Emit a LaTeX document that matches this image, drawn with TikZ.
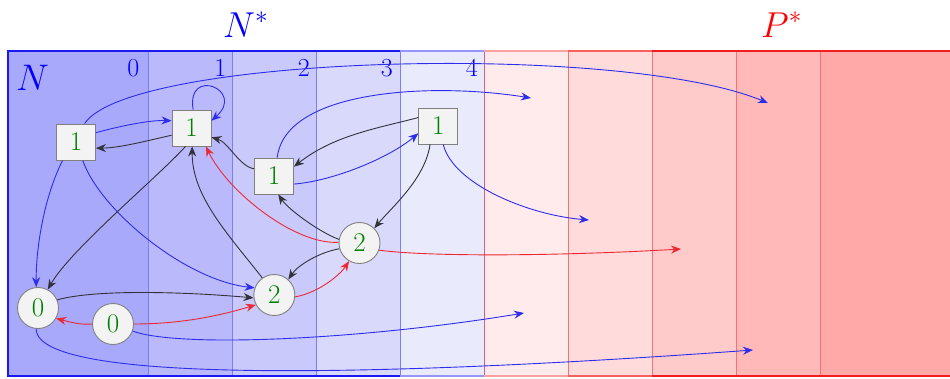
\RequirePackage{fix-cm}
\documentclass[tikz,border=0pt]{standalone}
\usetikzlibrary{arrows.meta}
\definecolor{bA}{RGB}{169,169,252}
\definecolor{bB}{RGB}{185,185,252}
\definecolor{bC}{RGB}{201,201,252}
\definecolor{bD}{RGB}{217,217,252}
\definecolor{bE}{RGB}{234,234,253}
\definecolor{rA}{RGB}{255,235,235}
\definecolor{rB}{RGB}{255,219,219}
\definecolor{rC}{RGB}{255,202,202}
\definecolor{rD}{RGB}{255,185,185}
\definecolor{rE}{RGB}{255,169,169}
\definecolor{eblue}{RGB}{45,45,235}
\definecolor{eblack}{RGB}{50,50,58}
\definecolor{ered}{RGB}{238,40,50}
\definecolor{ngreen}{RGB}{0,128,0}
\definecolor{nfill}{RGB}{243,243,243}
\definecolor{nborder}{RGB}{128,128,128}
\definecolor{bline}{RGB}{125,125,245}
\definecolor{rline}{RGB}{245,115,115}
\definecolor{mline}{RGB}{215,95,140}
\definecolor{bord}{RGB}{25,25,240}
\definecolor{bordl}{RGB}{150,150,250}
\definecolor{rord}{RGB}{240,30,30}
\definecolor{rordl}{RGB}{250,160,160}
\definecolor{rordm}{RGB}{248,95,95}
\begin{document}
\begin{tikzpicture}[x=1pt,y=-1pt,
  sq/.style={draw=nborder,fill=nfill,line width=0.9pt,minimum width=39pt,minimum height=36pt,inner sep=0pt,text=ngreen,font=\fontsize{27}{28}\selectfont},
  cir/.style={circle,draw=nborder,fill=nfill,line width=0.9pt,minimum size=41pt,inner sep=0pt,text=ngreen,font=\fontsize{27}{28}\selectfont},
  arr/.style={line width=0.9pt,-{Stealth[length=10pt,width=8pt]}},
  eb/.style={arr,draw=eblue}, ek/.style={arr,draw=eblack}, er/.style={arr,draw=ered},
  lab/.style={anchor=east,text=blue,inner sep=0pt,font=\fontsize{26}{27}\selectfont},
  big/.style={inner sep=0pt,anchor=base west,font=\fontsize{36}{38}\selectfont}]
\useasboundingbox (0,0) rectangle (950,378);
% strips
\fill[bA] (8,51) rectangle (148,376);
\fill[bB] (148,51) rectangle (232,376);
\fill[bC] (232,51) rectangle (316,376);
\fill[bD] (316,51) rectangle (400,376);
\fill[bE] (400,51) rectangle (484,376);
\fill[rA] (484,51) rectangle (568,376);
\fill[rB] (568,51) rectangle (652,376);
\fill[rC] (652,51) rectangle (736,376);
\fill[rD] (736,51) rectangle (820,376);
\fill[rE] (820,51) rectangle (950,376);
\foreach \x in {148,232,316,400} \draw[bline,line width=0.8pt] (\x,51) -- (\x,376);
\draw[mline,line width=0.9pt] (484,51) -- (484,376);
\foreach \x in {568,652,736,820} \draw[rline,line width=1pt] (\x,51) -- (\x,376);
% borders
\draw[bord,line width=1.8pt] (400,51) -- (8,51) -- (8,376) -- (400,376);
\draw[bordl,line width=1.8pt] (400,51) -- (484,51) (400,376) -- (484,376);
\draw[rordl,line width=1.8pt] (484,51) -- (568,51) (484,376) -- (568,376);
\draw[rordm,line width=1.8pt] (568,51) -- (652,51) (568,376) -- (652,376);
\draw[rord,line width=1.8pt] (652,51) -- (950,51) (652,376) -- (950,376);
% labels
\node[big,text=blue] (Nstar) at (223,37) {$N^*$};
\node[big,text=red] (Pstar) at (761,37) {$P^*$};
\node[big,text=blue,font=\fontsize{37}{39}\selectfont] (Nlab) at (16,90) {$N$};
\node[lab] (l0) at (139.5,68) {0};
\node[lab] (l1) at (226.5,68) {1};
\node[lab] (l2) at (310,68) {2};
\node[lab] (l3) at (393,68) {3};
\node[lab] (l4) at (478,68) {4};
% nodes
\node[sq] (A) at (76,142) {1};
\node[sq] (B) at (191.5,128) {1};
\node[sq] (C) at (274,176) {1};
\node[sq] (D) at (438.3,126) {1};
\node[cir] (E) at (359.5,243) {2};
\node[cir] (F) at (274.3,295) {2};
\node[cir] (G) at (38,308) {0};
\node[cir] (H) at (113,324) {0};
% free ends
\coordinate (pA) at (768,103);
\coordinate (pC) at (531,98);
\coordinate (pD) at (589,220);
\coordinate (pH) at (524,313);
\coordinate (pG) at (753,350);
\coordinate (pE) at (681,249);
% blue edges
\draw[eb] (A.25) .. controls (120,126) and (150,120) .. (B.160);
\draw[eb] (B.85) .. controls (186,66) and (246,90) .. (B.20);
\draw[eb] (A.-126) .. controls (45,195) and (36,245) .. (G.95);
\draw[eb] (A.-70) .. controls (100,210) and (185,280) .. (F.160);
\draw[eb] (A.65) .. controls (130,55) and (620,42) .. (pA);
\draw[eb] (C.-22) .. controls (333,181) and (389,158) .. (D.200);
\draw[eb] (C.80) .. controls (285,90) and (430,82) .. (pC);
\draw[eb] (D.-75) .. controls (453,184) and (528,215) .. (pD);
\draw[eb] (H.-20) .. controls (180,348) and (360,340) .. (pH);
\draw[eb] (G.-95) .. controls (36,390) and (450,372) .. (pG);
% black edges
\draw[ek] (B.200) .. controls (150,140) and (120,148) .. (A.-17);
\draw[ek] (B.-108) .. controls (160,175) and (70,250) .. (G.62);
\draw[ek] (F.125) .. controls (227,233) and (192,196) .. (B.-88);
\draw[ek] (C.160) .. controls (240,167) and (228,142) .. (B.-25);
\draw[ek] (D.157) .. controls (379,128) and (334,135) .. (C.25);
\draw[ek] (D.-114) .. controls (425,179) and (392,207) .. (E.45);
\draw[ek] (E.170) .. controls (319,232) and (288,209) .. (C.-77);
\draw[ek] (E.196) .. controls (320,252) and (298,265) .. (F.48);
\draw[ek] (G.23) .. controls (100,288) and (200,293) .. (F.188);
% red edges
\draw[er] (E.178) .. controls (295,245) and (228,192) .. (B.-52);
\draw[er] (E.-20) .. controls (430,257) and (560,256) .. (pE);
\draw[er] (F.-5) .. controls (318,293) and (340,275) .. (E.-120);
\draw[er] (H.180) .. controls (80,325) and (70,322) .. (G.-30);
\draw[er] (H.0) .. controls (183,324) and (222,315) .. (F.-152);
\end{tikzpicture}
\end{document}
